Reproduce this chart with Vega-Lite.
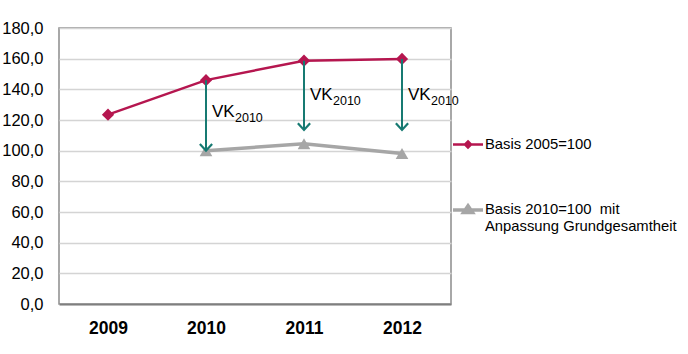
{
  "$schema": "https://vega.github.io/schema/vega-lite/v6.json",
  "width": 392,
  "height": 276,
  "autosize": {"type": "none"},
  "padding": {"left": 59, "top": 28, "right": 237, "bottom": 50},
  "background": "white",
  "config": {
    "font": "Liberation Sans",
    "view": {"stroke": "#8c8c8c", "strokeWidth": 1.5},
    "axis": {"title": null, "ticks": false, "labelColor": "#000000"},
    "axisY": {
      "tickCount": 10,
      "labelOverlap": false,
      "labelExpr": "replace(format(datum.value, '.1f'), '.', ',')",
      "labelFontSize": 16.5,
      "labelPadding": 16,
      "domain": false,
      "gridColor": "#d4d4d4",
      "gridWidth": 1.5
    },
    "legend": {
      "orient": "none",
      "legendX": 392,
      "legendY": 100,
      "title": null,
      "labelFontSize": 14.8,
      "labelColor": "#000000",
      "labelOffset": 0,
      "labelLimit": 300,
      "labelLineHeight": 17,
      "rowPadding": 40,
      "symbolSize": 900,
      "symbolStrokeWidth": 2.5
    }
  },
  "datasets": {
    "series": [
      {"year": "2009", "series": "Basis 2005=100", "value": 123.5},
      {"year": "2010", "series": "Basis 2005=100", "value": 146},
      {"year": "2011", "series": "Basis 2005=100", "value": 158.7},
      {"year": "2012", "series": "Basis 2005=100", "value": 159.8},
      {"year": "2010", "series": "Basis 2010=100  mit Anpassung Grundgesamtheit", "value": 100},
      {"year": "2011", "series": "Basis 2010=100  mit Anpassung Grundgesamtheit", "value": 104.5},
      {"year": "2012", "series": "Basis 2010=100  mit Anpassung Grundgesamtheit", "value": 98.2}
    ],
    "arrows": [
      {"year": "2010", "from": 146, "to": 100},
      {"year": "2011", "from": 158.7, "to": 113.5},
      {"year": "2012", "from": 159.8, "to": 113.5}
    ],
    "labels": [
      {"year": "2010", "value": 122, "vk": "VK", "sub": "2010"},
      {"year": "2011", "value": 133, "vk": "VK", "sub": "2010"},
      {"year": "2012", "value": 133, "vk": "VK", "sub": "2010"}
    ]
  },
  "encoding": {
    "x": {
      "field": "year",
      "type": "ordinal",
      "scale": {"type": "point", "padding": 0.5, "domain": ["2009", "2010", "2011", "2012"]},
      "axis": {
        "labelAngle": 0,
        "labelFontSize": 17.5,
        "labelFontWeight": "bold",
        "labelPadding": 15,
        "domainColor": "#7f7f7f",
        "domainWidth": 2,
        "grid": false
      }
    }
  },
  "layer": [
    {
      "data": {"name": "series"},
      "mark": {"type": "line"},
      "encoding": {
        "y": {
          "field": "value",
          "type": "quantitative",
          "scale": {"domain": [0, 180], "nice": false}
        },
        "strokeWidth": {
          "field": "series",
          "type": "nominal",
          "scale": {"domain": ["Basis 2005=100", "Basis 2010=100  mit Anpassung Grundgesamtheit"], "range": [2.5, 3.5]},
          "legend": null
        },
        "color": {
          "field": "series",
          "type": "nominal",
          "scale": {"domain": ["Basis 2005=100", "Basis 2010=100  mit Anpassung Grundgesamtheit"], "range": ["#B5164F", "#A6A6A6"]},
          "legend": {
            "labelExpr": "datum.value == 'Basis 2005=100' ? datum.label : ['Basis 2010=100\u00a0 mit', 'Anpassung Grundgesamtheit']",
            "encode": {
              "symbols": {
                "update": {
                  "shape": {"signal": "datum.value == 'Basis 2005=100' ? 'M-1,0L1,0M0,-0.2L0.2,0L0,0.2L-0.2,0Z' : 'M-1,0L1,0M0,-0.28L0.3,0.16L-0.3,0.16Z'"},
                  "fill": {"scale": "color", "field": "value"},
                  "stroke": {"scale": "color", "field": "value"},
                  "strokeWidth": {"signal": "datum.value == 'Basis 2005=100' ? 2.5 : 3"}
                }
              }
            }
          }
        }
      }
    },
    {
      "data": {"name": "series"},
      "transform": [{"filter": "datum.series == 'Basis 2005=100'"}],
      "mark": {"type": "point", "shape": "diamond", "filled": true, "opacity": 1, "size": 150},
      "encoding": {
        "y": {"field": "value", "type": "quantitative"},
        "color": {"field": "series", "type": "nominal"}
      }
    },
    {
      "data": {"name": "series"},
      "transform": [{"filter": "datum.series != 'Basis 2005=100'"}],
      "mark": {"type": "point", "shape": "triangle-up", "filled": true, "opacity": 1, "size": 160},
      "encoding": {
        "y": {"field": "value", "type": "quantitative"},
        "color": {"field": "series", "type": "nominal"}
      }
    },
    {
      "data": {"name": "arrows"},
      "mark": {"type": "rule", "color": "#177A72", "strokeWidth": 2},
      "encoding": {
        "y": {"field": "from", "type": "quantitative"},
        "y2": {"field": "to"}
      }
    },
    {
      "data": {"name": "arrows"},
      "mark": {"type": "point", "shape": "M-1,-1.1L0,0L1,-1.1", "filled": false, "color": "#177A72", "strokeWidth": 2.2, "size": 150, "opacity": 1},
      "encoding": {
        "y": {"field": "to", "type": "quantitative"}
      }
    },
    {
      "data": {"name": "labels"},
      "mark": {"type": "text", "align": "left", "baseline": "alphabetic", "dx": 6, "fontSize": 17, "color": "#000000"},
      "encoding": {
        "y": {"field": "value", "type": "quantitative"},
        "text": {"field": "vk"}
      }
    },
    {
      "data": {"name": "labels"},
      "mark": {"type": "text", "align": "left", "baseline": "alphabetic", "dx": 29, "dy": 5, "fontSize": 12.5, "color": "#000000"},
      "encoding": {
        "y": {"field": "value", "type": "quantitative"},
        "text": {"field": "sub"}
      }
    }
  ]
}
